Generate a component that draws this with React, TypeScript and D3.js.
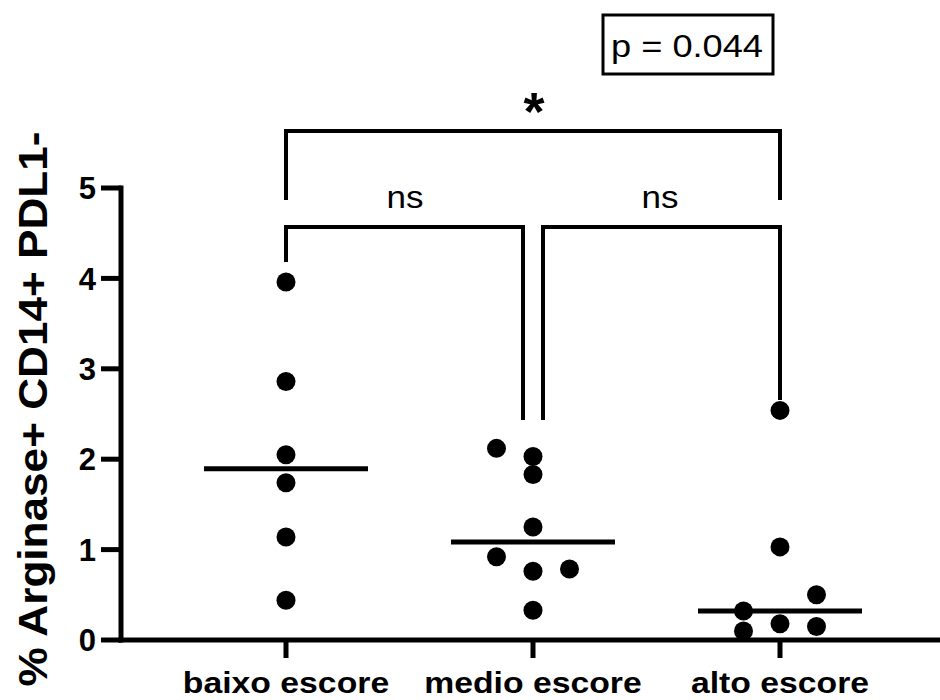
import React from "react";
import * as d3 from "d3";

const categories = ["baixo escore", "medio escore", "alto escore"];
const baixoValues = [3.96, 2.86, 2.05, 1.74, 1.14, 0.44];
const baixoSlots = [0, 0, 0, 0, 0, 0];
const medioValues = [2.12, 2.03, 1.83, 1.25, 0.92, 0.76, 0.785, 0.33];
const medioSlots = [-1, 0, 0, 0, -1, 0, 1, 0];
const altoValues = [2.54, 1.03, 0.5, 0.32, 0.18, 0.15, 0.1];
const altoSlots = [0, 0, 1, -1, 0, 1, -1];
const yTicks = [0, 1, 2, 3, 4, 5];
const yLabel = "% Arginase+ CD14+ PDL1-";
const pLabel = "p = 0.044";

const groups = [
  { name: categories[0], values: baixoValues, slots: baixoSlots },
  { name: categories[1], values: medioValues, slots: medioSlots },
  { name: categories[2], values: altoValues, slots: altoSlots },
];

const FONT = "'Liberation Sans', Arial, Helvetica, sans-serif";

export default function App() {
  const x = d3.scalePoint<string>().domain(categories).range([286, 780]);
  const y = d3.scaleLinear().domain([0, 5]).range([640, 188]);
  const slotStep = 36.5;
  const axisX = 121;
  const sw = 5;

  const xb = (c: string) => x(c) as number;

  return (
    <svg
      width={940}
      height={700}
      style={{ position: "absolute", left: 0, top: 0, background: "#fff" }}
      fontFamily={FONT}
    >
      {/* y axis */}
      <line x1={axisX} x2={axisX} y1={y(5) - sw / 2} y2={y(0) + sw / 2} stroke="#000" strokeWidth={sw} />
      {yTicks.map((t) => (
        <g key={t}>
          <line x1={axisX - 20} x2={axisX} y1={y(t)} y2={y(t)} stroke="#000" strokeWidth={sw} />
          <text x={axisX - 25} y={y(t)} dy="0.36em" textAnchor="end" fontWeight="bold" fontSize={31}>
            {t}
          </text>
        </g>
      ))}
      {/* x axis */}
      <line x1={axisX - sw / 2} x2={940} y1={y(0)} y2={y(0)} stroke="#000" strokeWidth={sw} />
      {categories.map((c) => (
        <g key={c}>
          <line x1={xb(c)} x2={xb(c)} y1={y(0)} y2={y(0) + 18} stroke="#000" strokeWidth={sw} />
          <text
            transform={`translate(${xb(c)},693) scale(1.125,1)`}
            textAnchor="middle"
            fontWeight="bold"
            fontSize={30}
          >
            {c}
          </text>
        </g>
      ))}
      {/* y label */}
      <text
        transform={`translate(47,409) rotate(-90)`}
        textAnchor="middle"
        fontWeight="bold"
        fontSize={41}
        textLength={555}
        lengthAdjust="spacingAndGlyphs"
      >
        {yLabel}
      </text>

      {/* points */}
      {groups.map((g) => (
        <g key={g.name}>
          {g.values.map((v, i) => (
            <circle key={i} cx={xb(g.name) + g.slots[i] * slotStep} cy={y(v)} r={9.5} fill="#000" />
          ))}
          <line
            x1={xb(g.name) - 82}
            x2={xb(g.name) + 82}
            y1={y(d3.median(g.values) as number)}
            y2={y(d3.median(g.values) as number)}
            stroke="#000"
            strokeWidth={sw}
          />
        </g>
      ))}

      {/* significance brackets */}
      <path
        d={`M${xb(categories[0])},200 V131 H${xb(categories[2])} V200`}
        fill="none"
        stroke="#000"
        strokeWidth={4}
      />
      <text x={534} y={130} textAnchor="middle" fontWeight="bold" fontSize={54}>
        *
      </text>
      <path
        d={`M${xb(categories[0])},262 V227 H${xb(categories[1]) - 10} V420`}
        fill="none"
        stroke="#000"
        strokeWidth={4}
      />
      <path
        d={`M${xb(categories[1]) + 10},420 V227 H${xb(categories[2])} V400`}
        fill="none"
        stroke="#000"
        strokeWidth={4}
      />
      <text x={405} y={208} textAnchor="middle" fontSize={31} textLength={37} lengthAdjust="spacingAndGlyphs">
        ns
      </text>
      <text x={660} y={208} textAnchor="middle" fontSize={31} textLength={37} lengthAdjust="spacingAndGlyphs">
        ns
      </text>

      {/* p-value box */}
      <rect x={603} y={15} width={170} height={59} fill="#fff" stroke="#000" strokeWidth={3} />
      <text x={687} y={57} textAnchor="middle" fontSize={31} textLength={152} lengthAdjust="spacingAndGlyphs">
        {pLabel}
      </text>
    </svg>
  );
}
